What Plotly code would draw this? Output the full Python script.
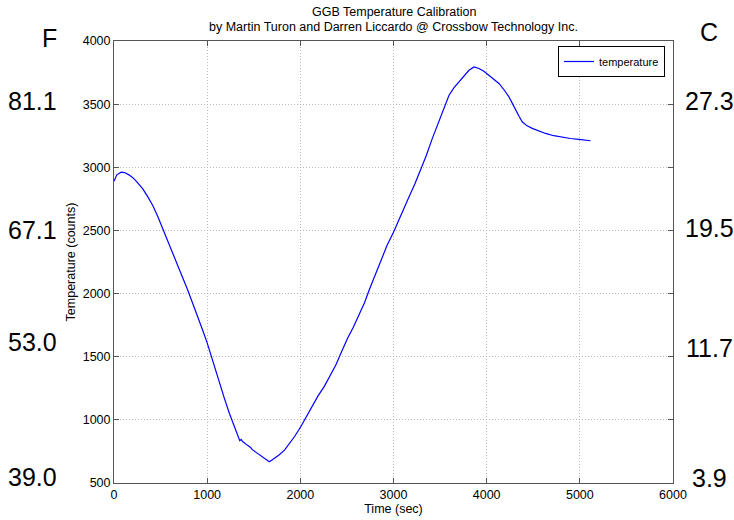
import plotly.graph_objects as go

# ---- data ----
time_sec = [0, 30, 77, 113, 160, 202, 250, 309, 360, 416, 470, 523, 575, 630, 685, 737,
            790, 845, 900, 952, 1000, 1024, 1080, 1131, 1185, 1238, 1290, 1327, 1350, 1365,
            1380, 1430, 1460, 1488, 1540, 1570, 1595, 1640, 1667, 1700, 1740, 1774, 1830,
            1881, 1940, 2006, 2070, 2131, 2190, 2256, 2320, 2381, 2440, 2506, 2570, 2631,
            2690, 2738, 2800, 2864, 2930, 3000, 3050, 3095, 3167, 3230, 3292, 3350, 3417,
            3470, 3524, 3560, 3596, 3650, 3703, 3760, 3810, 3864, 3917, 3970, 4024, 4080,
            4132, 4190, 4239, 4280, 4311, 4350, 4382, 4430, 4489, 4560, 4632, 4720, 4811,
            4900, 4989, 5060, 5115]
counts = [2890, 2940, 2961, 2958, 2940, 2918, 2880, 2829, 2770, 2698, 2610, 2513, 2420, 2316, 2230, 2131,
          2030, 1921, 1820, 1710, 1610, 1552, 1420, 1289, 1170, 1052, 950, 880, 835, 845,
          828, 800, 785, 762, 735, 720, 700, 680, 668, 685, 705, 724, 760,
          810, 870, 947, 1030, 1118, 1190, 1263, 1350, 1434, 1535, 1645, 1735, 1829,
          1930, 2026, 2145, 2263, 2380, 2485, 2570, 2658, 2767, 2870, 2980, 3090, 3229,
          3330, 3439, 3510, 3571, 3630, 3676, 3725, 3768, 3795, 3782, 3760, 3729, 3700,
          3664, 3610, 3558, 3500, 3453, 3400, 3360, 3330, 3308, 3285, 3268, 3250, 3237,
          3228, 3221, 3214, 3210]

series_name = "temperature"
title_lines = ["GGB Temperature Calibration",
               "by Martin Turon and Darren Liccardo @ Crossbow Technology Inc."]
x_title = "Time (sec)"
y_title = "Temperature (counts)"
x_ticks = [0, 1000, 2000, 3000, 4000, 5000, 6000]
y_ticks = [500, 1000, 1500, 2000, 2500, 3000, 3500, 4000]

left_labels = ["F", "81.1", "67.1", "53.0", "39.0"]
right_labels = ["C", "27.3", "19.5", "11.7", "3.9"]

# ---- layout geometry (pixels) ----
W, H = 734, 520
L, R, T, B = 114, 61, 41, 37
pw, ph = W - L - R, H - T - B
left_px = [(59, 38), (59, 101), (59, 230), (59, 342), (59, 477)]
right_px = [(709, 32), (709, 101), (709, 228), (709, 348), (709, 478)]
title_px = [12, 27]

FONT = "Arial, Liberation Sans, sans-serif"

fig = go.Figure()
fig.add_trace(go.Scatter(x=time_sec, y=counts, mode="lines", name=series_name,
                         line=dict(color="#0000ff", width=1.2)))

axis_common = dict(showline=True, linecolor="#555555", linewidth=1, mirror="ticks",
                   ticks="inside", ticklen=5, tickcolor="#555555",
                   showgrid=True, gridcolor="#b8b8b8", griddash="1px,2px", gridwidth=1,
                   zeroline=False, tickfont=dict(size=12.5, color="#000000", family=FONT))

fig.update_xaxes(range=[0, 6000], tickvals=x_ticks, **axis_common,
                 title=dict(text=x_title, font=dict(size=12.5, color="#000"), standoff=2))
fig.update_yaxes(range=[500, 4000], tickvals=y_ticks, **axis_common,
                 title=dict(text=y_title, font=dict(size=12.5, color="#000"), standoff=4))

annotations = []
for txt, py in zip(title_lines, title_px):
    annotations.append(dict(text=txt, xref="paper", yref="paper",
                            x=0.5, y=(H - B - py) / ph,
                            xanchor="center", yanchor="middle", showarrow=False,
                            font=dict(size=12.5, color="#000", family=FONT)))
for txt, (px, py) in zip(left_labels, left_px):
    annotations.append(dict(text=txt, xref="paper", yref="paper",
                            x=(px - L) / pw, y=(H - B - py) / ph,
                            xanchor="right", yanchor="middle", showarrow=False,
                            font=dict(size=25, color="#000", family=FONT)))
for txt, (px, py) in zip(right_labels, right_px):
    annotations.append(dict(text=txt, xref="paper", yref="paper",
                            x=(px - L) / pw, y=(H - B - py) / ph,
                            xanchor="center", yanchor="middle", showarrow=False,
                            font=dict(size=25, color="#000", family=FONT)))

fig.update_layout(
    width=W, height=H,
    margin=dict(l=L, r=R, t=T, b=B, autoexpand=False),
    paper_bgcolor="white", plot_bgcolor="white",
    font=dict(family=FONT, size=12.5, color="#000"),
    showlegend=True,
    legend=dict(x=(665 - L) / pw, y=(H - B - 46) / ph, xanchor="right", yanchor="top",
                bgcolor="white", bordercolor="#000", borderwidth=1,
                font=dict(size=11, color="#000", family=FONT),
                itemwidth=30, tracegroupgap=0),
    annotations=annotations,
)

fig.write_html("out.html")
